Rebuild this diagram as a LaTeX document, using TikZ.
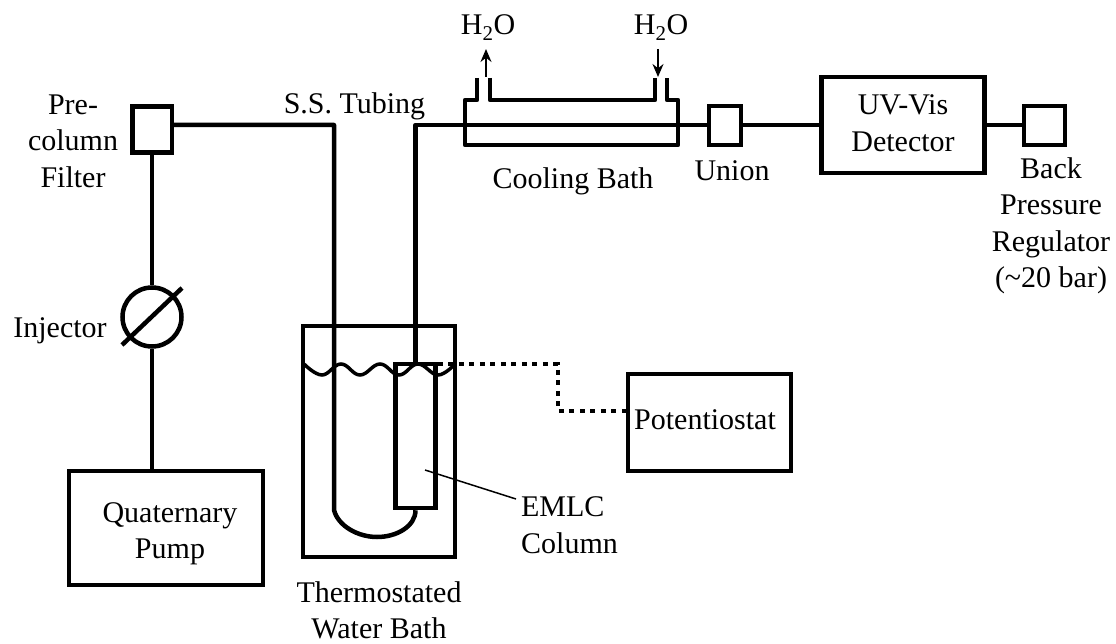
\documentclass[tikz,border=0pt]{standalone}
\usepackage{fontspec}
\setmainfont{Liberation Serif}
\usepackage{tikz}
\usetikzlibrary{arrows.meta}

\begin{document}
\begin{tikzpicture}
      [
      x=1pt,y=-1pt,
      every node/.style={inner sep=0pt,font=\fontsize{30}{36.5}\selectfont},
      unit/.style={rectangle,draw,line width=4.5pt,minimum width=#1},
      tube/.style={line width=4.5pt,line join=round},
      text label/.style={align=center},
      flow/.style={line width=1.5pt,-{Stealth[length=13pt,width=11pt]}}
      ]
      \useasboundingbox (0,0) rectangle (1116,644);
      \node (filter) at (152,129.5) [unit=39.5pt,minimum height=46pt] {};
      \node (injector) at (152,317) [circle,draw,line width=4.5pt,minimum size=59pt] {};
      \node (pump) at (166,528) [unit=194pt,minimum height=114pt] {};
      \node (bath) at (379,441.5) [unit=152pt,minimum height=231pt] {};
      \node (column) at (415.5,436) [unit=40pt,minimum height=144pt] {};
      \node (union) at (725,125.5) [unit=32pt,minimum height=39pt] {};
      \node (detector) at (903,125) [unit=163pt,minimum height=96pt] {};
      \node (regulator) at (1044.5,125.5) [unit=41pt,minimum height=39pt] {};
      \node (potentiostat) at (709.5,422.5) [unit=163pt,minimum height=97pt] {};
      \coordinate (slash1) at (122,345);
      \coordinate (slash2) at (182,288);
      \coordinate (outA) at (334,125);
      \coordinate (turnA) at (334,510);
      \coordinate (outB) at (415.5,125);
      \coordinate (dot1) at (558,364);
      \coordinate (dot2) at (558,411);
      \coordinate (leader1) at (425,470);
      \coordinate (leader2) at (516,499);
      \coordinate (in1) at (486,77);
      \coordinate (in2) at (486,49);
      \coordinate (in3) at (658,49);
      \coordinate (in4) at (658,77);
      % tubing
      \draw [tube] (filter) to (injector);
      \draw [tube] (injector) to (injector |- pump.north);
      \draw [tube] (slash1) to (slash2);
      \draw [tube] (filter.east |- outA) to (outA) to (turnA)
        .. controls (338,526) and (358,537) .. (377,537)
        .. controls (397,537) and (415.5,526) .. (column.south);
      \draw [tube] (column.north) to (outB) to (union.west |- outB);
      \draw [tube] (union.east |- outB) to (detector.west |- outB);
      \draw [tube] (detector.east |- outB) to (regulator.west |- outB);
      % cooling bath
      \draw [tube] (477,78) -- (477,100) -- (465,100) -- (465,145) -- (678,145) -- (678,100) -- (667,100) -- (667,78);
      \draw [tube] (490,78) -- (490,100) -- (655,100) -- (655,78);
      \draw [flow] (in1) to (in2);
      \draw [flow] (in3) to (in4);
      % water level
      \draw [line width=3.5pt] plot [smooth,tension=0.7] coordinates {(304,364) (322,375) (341,364) (360,375) (380,364) (399,375) (418,364) (438,375) (455,364)};
      \draw [line width=4.5pt,dash pattern=on 5pt off 5.5pt] (column.east |- dot1) to (dot1) to (dot2) to (potentiostat.west |- dot2);
      \draw [line width=1.5pt] (leader1) to (leader2);
      % labels
      \node (filter label) at (73,141) [text label] {Pre-\\column\\Filter};
      \node (injector label) at (60,331) [text label] {Injector};
      \node (pump label) at (170,534) [text label] {Quaternary\\Pump};
      \node (tubing label) at (354.5,106) [text label] {S.S. Tubing};
      \node (h2o left) at (488,27.5) [text label] {H$_{\mathrm{2}}$O};
      \node (h2o right) at (661,27.5) [text label] {H$_{\mathrm{2}}$O};
      \node (bath label) at (573,181) [text label] {Cooling Bath};
      \node (union label) at (732,171) [text label] {Union};
      \node (detector label) at (903,123) [text label] {UV-Vis\\Detector};
      \node (regulator label) at (1051,226) [text label] {Back\\Pressure\\Regulator\\(\textasciitilde 20 bar)};
      \node (potentiostat label) at (705,420) [text label] {Potentiostat};
      \node (column label) at (569.5,525) [align=left] {EMLC\\Column};
      \node (water label) at (379,610.5) [text label] {Thermostated\\Water Bath};
    \end{tikzpicture}
\end{document}
